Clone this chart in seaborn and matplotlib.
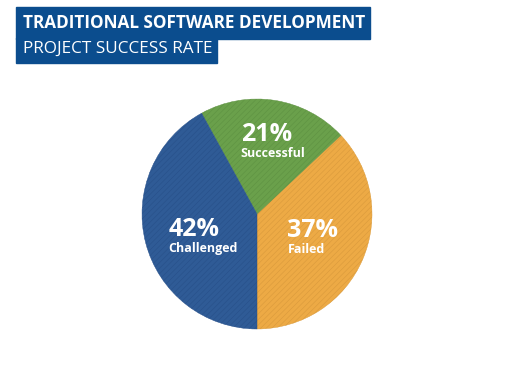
import numpy as np
import matplotlib.pyplot as plt
import seaborn as sns
from matplotlib.patches import Rectangle

sns.set_theme(style="white")
plt.rcParams['font.family'] = ['Open Sans', 'DejaVu Sans']
plt.rcParams['hatch.linewidth'] = 0.4

# Data
categories = ['Failed', 'Successful', 'Challenged']
shares = [37, 21, 42]
colors = ['#EDAA45', '#6AA04B', '#2F5B96']
hatch_colors = ['#D99A3C', '#5E9142', '#28508A']
title_line1 = 'TRADITIONAL SOFTWARE DEVELOPMENT'
title_line2 = 'PROJECT SUCCESS RATE'

W, H = 512, 365
fig = plt.figure(figsize=(W / 100, H / 100), dpi=100)

# pie axes placed so the circle sits at about (257, 214) px with r ~ 115
r_px = 115
cx, cy = 257, 214
ax = fig.add_axes([(cx - r_px) / W, (H - cy - r_px) / H, 2 * r_px / W, 2 * r_px / H])

wedges, _ = ax.pie(shares, colors=colors, startangle=-90, counterclock=True,
                   wedgeprops=dict(linewidth=0.3))
for w, hc in zip(wedges, hatch_colors):
    w.set_hatch('//////')
    w.set_edgecolor(hc)
ax.set_aspect('equal')
ax.set_xlim(-1, 1)
ax.set_ylim(-1, 1)

# labels: big percentage over small category name, left aligned
label_radius = {'Failed': 0.55, 'Successful': 0.62, 'Challenged': 0.55}
label_drop = {'Failed': 0.0, 'Successful': 0.0, 'Challenged': 0.07}
for w, name, val in zip(wedges, categories, shares):
    mid = np.deg2rad((w.theta1 + w.theta2) / 2)
    rad = label_radius[name]
    x = rad * np.cos(mid) - 0.24
    y = rad * np.sin(mid) - label_drop[name]
    ax.text(x, y + 0.075, f'{val}%', color='white', fontsize=18, fontweight='bold',
            ha='left', va='center')
    ax.text(x, y - 0.09, name, color='white', fontsize=9, fontweight='bold',
            ha='left', va='center')

# title banner
blue = '#0B4D8E'
fig.patches.append(Rectangle((16 / W, 1 - 39 / H), (370 - 16) / W, 32 / H,
                             transform=fig.transFigure, color=blue, zorder=0))
fig.patches.append(Rectangle((16 / W, 1 - 63 / H), (217 - 16) / W, 25 / H,
                             transform=fig.transFigure, color=blue, zorder=0))
fig.text(23 / W, 1 - 23 / H, title_line1, color='white', fontsize=12.3,
         fontweight='bold', ha='left', va='center')
fig.text(23 / W, 1 - 49 / H, title_line2, color='white', fontsize=12.3,
         ha='left', va='center')

fig.savefig('out.png', dpi=100, facecolor='white')
